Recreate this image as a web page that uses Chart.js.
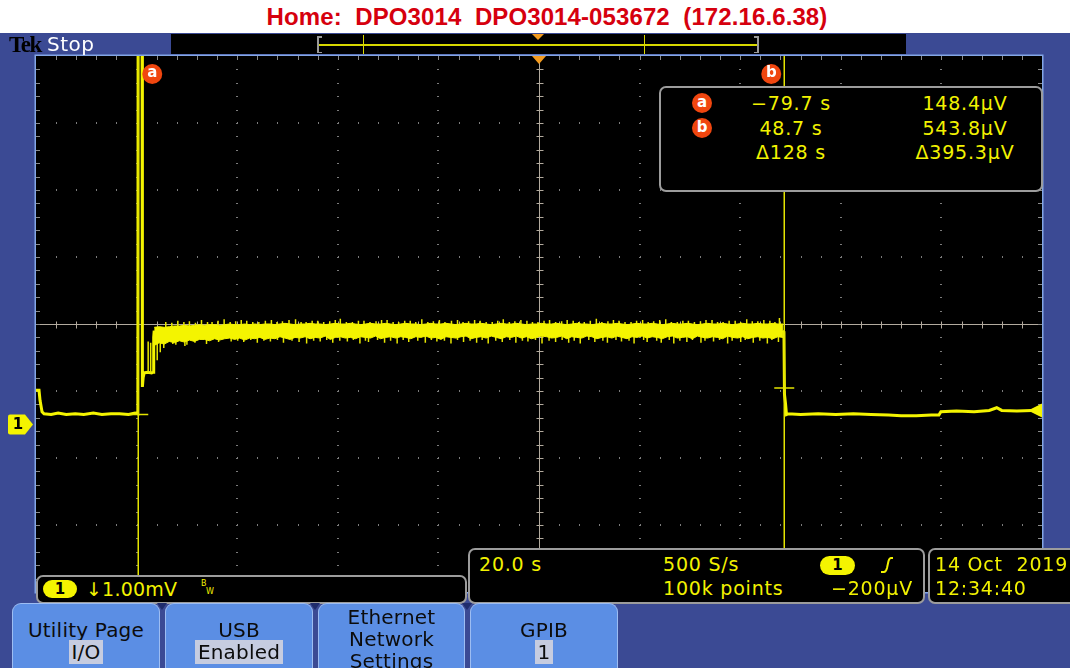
<!DOCTYPE html>
<html>
<head>
<meta charset="utf-8">
<script src="https://cdn.jsdelivr.net/npm/chart.js@4.4.1/dist/chart.umd.min.js"></script>
<style>
  html, body { margin: 0; padding: 0; }
  body { width: 1070px; height: 668px; overflow: hidden; position: relative; background: #3b4a94;
         font-family: "DejaVu Sans", sans-serif; }
  #paper { position: absolute; left: 0; top: 0; width: 1070px; height: 33px; background: #fff; }
  #title { position: absolute; left: 12px; top: 3px; width: 1070px; text-align: center; white-space: pre;
           font: bold 24px "Liberation Sans", Arial, sans-serif; color: #d6000e; letter-spacing: 0.1px; }
  #wrap { position: absolute; left: 0; top: 0; width: 1070px; height: 668px; z-index: 1; }
  .ov { position: absolute; z-index: 2; }
  #tek { left: 9px; top: 32px; font: bold 23px "Liberation Serif", serif; color: #000; letter-spacing: -1.5px; }
  #stop { left: 47px; top: 32px; font-size: 20px; color: #fff; letter-spacing: 0.5px; }
  #rec { left: 171px; top: 34px; width: 735px; height: 20px; background: #000; }
  .box { background: #000; border: 2px solid #9c9c9c; border-radius: 7px; box-sizing: border-box; }
  .y { color: #f2f200; font-size: 19px; letter-spacing: 0.8px; line-height: 22px; white-space: pre; }
  .c { text-align: center; }
  .r { text-align: right; }
  .pill { background: #f4f400; color: #000; border-radius: 10px; text-align: center;
          font: bold 15px "DejaVu Sans", sans-serif; }
  .tag { width: 20px; height: 20px; border-radius: 50%; background: #f0460f; color: #fff;
         font: bold 15px "DejaVu Sans", sans-serif; text-align: center; line-height: 19px; }
  .btn { top: 603px; height: 80px; background: #5b8ee4; border: 1px solid #9dbdf2; border-bottom: none;
         border-radius: 9px 9px 0 0; box-sizing: border-box; color: #0c0c0c; font-size: 20px;
         text-align: center; line-height: 22px; padding-top: 15px; letter-spacing: 0.2px; }
  .hl { background: #c6cce0; padding: 0 3px; }
  .notch { width: 0; height: 0; border-left: 5px solid transparent; border-right: 5px solid transparent;
           border-top: 7px solid #1f2c6c; }
</style>
</head>
<body>
<div id="paper"></div>
<div id="title">Home:  DPO3014  DPO3014-053672  (172.16.6.38)</div>
<div id="wrap"><canvas id="scope"></canvas></div>

<div class="ov" id="tek">Tek</div>
<div class="ov" id="stop">Stop</div>
<div class="ov" id="rec"></div>

<!-- cursor readout -->
<div class="ov box" style="left:659px;top:86px;width:384px;height:106px;"></div>
<div class="ov tag" style="left:692px;top:93px;">a</div>
<div class="ov tag" style="left:692px;top:118px;">b</div>
<div class="ov y c" id="ta" style="left:731px;top:92px;width:120px;"></div>
<div class="ov y c" id="tb" style="left:731px;top:117px;width:120px;"></div>
<div class="ov y c" style="left:731px;top:141px;width:120px;">Δ128 s</div>
<div class="ov y c" id="va" style="left:895px;top:92px;width:140px;"></div>
<div class="ov y c" id="vb" style="left:895px;top:117px;width:140px;"></div>
<div class="ov y c" style="left:895px;top:141px;width:140px;">Δ395.3µV</div>

<!-- channel readout -->
<div class="ov box" style="left:36px;top:575px;width:431px;height:29px;"></div>
<div class="ov pill" style="left:43px;top:580px;width:34px;height:18px;line-height:18px;">1</div>
<div class="ov y" style="left:86px;top:578px;letter-spacing:0.2px;">↓1.00mV</div>
<div class="ov" style="left:201px;top:580px;color:#f2f200;font-size:8px;line-height:8px;">B</div>
<div class="ov" style="left:206px;top:588px;color:#f2f200;font-size:8px;line-height:8px;">W</div>

<!-- timebase / trigger readout -->
<div class="ov box" style="left:468px;top:548px;width:457px;height:56px;"></div>
<div class="ov y" style="left:479px;top:553px;">20.0 s</div>
<div class="ov y" style="left:663px;top:553px;">500 S/s</div>
<div class="ov pill" style="left:820px;top:556px;width:35px;height:19px;line-height:19px;">1</div>
<svg class="ov" style="left:880px;top:556px;" width="14" height="18" viewBox="0 0 14 18">
  <path d="M1 16 H4 Q6 16 7 12 L8.5 5 Q9.5 2 11 2 H13" fill="none" stroke="#f2f200" stroke-width="2"/>
</svg>
<div class="ov y" style="left:663px;top:577px;">100k points</div>
<div class="ov y r" style="left:800px;top:577px;width:113px;">−200µV</div>

<!-- date readout -->
<div class="ov box" style="left:928px;top:548px;width:160px;height:56px;"></div>
<div class="ov y" style="left:935px;top:553px;">14 Oct  2019</div>
<div class="ov y" style="left:935px;top:577px;">12:34:40</div>

<!-- soft keys -->
<div class="ov btn" style="left:12px;width:148px;">Utility Page<br><span class="hl">I/O</span></div>
<div class="ov btn" style="left:165px;width:148px;">USB<br><span class="hl">Enabled</span></div>
<div class="ov btn" style="left:318px;width:147px;padding-top:2px;">Ethernet<br>Network<br>Settings</div>
<div class="ov btn" style="left:470px;width:148px;">GPIB<br><span class="hl">1</span></div>
<div class="ov notch" style="left:157px;top:603px;"></div>
<div class="ov notch" style="left:310px;top:603px;"></div>
<div class="ov notch" style="left:462px;top:603px;"></div>

<script>
// Channel 1 acquisition: 20 s/div horizontal, 1.00 mV/div vertical, 10 x 8 divisions.
const X_RANGE = [-100, 100];          // s
const Y_RANGE = [-2.5, 5.5];          // mV; ground reference 1.5 div below centre
const CURSOR_T = [-79.7, 48.7];       // s   (cursor a, cursor b)
const CURSOR_V = [0.1484, 0.5438];    // mV  (148.4 µV, 543.8 µV)

// Main trace: baseline, the switch-on burst, and the return to baseline.
const TRACE_T = [-100, -99.4, -99.2, -98.8, -98.4, -97.0, -95.6, -94.0, -92.2, -90.5, -88.6, -86.9,
  -85.1, -83.4, -81.6, -80.3, -79.75, -79.7, -78.9, -78.85, -78.7, -78.5, -77.8, -77.0, -76.7, -76.6,
  -76.5, -76.5, 48.5, 48.7, 48.8, 49.0, 49.2, 49.5, 52.0, 55.5, 59.0, 62.5, 66.0, 69.5, 72.0, 75.0,
  78.0, 79.5, 79.9, 83.0, 86.5, 89.5, 91.0, 92.0, 95.0, 98.0, 100];
const TRACE_V = [0.51, 0.51, 0.36, 0.19, 0.16, 0.15, 0.17, 0.15, 0.16, 0.15, 0.17, 0.15,
  0.16, 0.16, 0.15, 0.17, 0.16, 5.6, 5.6, 0.56, 0.70, 0.77, 0.78, 0.77, 0.78, 1.30,
  1.40, null, 1.40, 1.38, 0.45, 0.32, 0.15, 0.16, 0.15, 0.16, 0.15, 0.16, 0.15, 0.14, 0.13, 0.13,
  0.14, 0.14, 0.19, 0.20, 0.19, 0.21, 0.25, 0.21, 0.20, 0.21, 0.21];

// Plateau noise envelope, one sample per second from -76.5 s.
const PLATEAU_START = -76.5;
const PLATEAU_STEP = 1;
const CORE_HI = [
  1.45, 1.46, 1.45, 1.46, 1.47, 1.47, 1.48, 1.47, 1.48, 1.49,
  1.48, 1.49, 1.49, 1.48, 1.49, 1.50, 1.49, 1.49, 1.50, 1.49,
  1.50, 1.49, 1.50, 1.50, 1.49, 1.50, 1.51, 1.50, 1.49, 1.50,
  1.50, 1.51, 1.50, 1.50, 1.49, 1.50, 1.51, 1.50, 1.50, 1.51,
  1.50, 1.49, 1.50, 1.51, 1.50, 1.50, 1.51, 1.50, 1.49, 1.50,
  1.51, 1.50, 1.50, 1.49, 1.50, 1.51, 1.50, 1.50, 1.51, 1.50,
  1.49, 1.50, 1.51, 1.50, 1.50, 1.51, 1.50, 1.49, 1.50, 1.51,
  1.50, 1.50, 1.51, 1.50, 1.49, 1.50, 1.50, 1.51, 1.50, 1.50,
  1.51, 1.50, 1.49, 1.50, 1.51, 1.50, 1.50, 1.49, 1.50, 1.51,
  1.50, 1.50, 1.51, 1.50, 1.49, 1.50, 1.51, 1.50, 1.50, 1.51,
  1.50, 1.49, 1.50, 1.51, 1.50, 1.50, 1.51, 1.50, 1.49, 1.50,
  1.51, 1.50, 1.50, 1.51, 1.50, 1.49, 1.50, 1.51, 1.50, 1.50,
  1.51, 1.50, 1.50, 1.51, 1.50, 1.50];
const CORE_LO = [
  1.18, 1.22, 1.20, 1.24, 1.22, 1.25, 1.23, 1.26, 1.24, 1.27,
  1.27, 1.25, 1.28, 1.26, 1.28, 1.29, 1.27, 1.29, 1.26, 1.29,
  1.28, 1.30, 1.27, 1.29, 1.28, 1.31, 1.29, 1.27, 1.30, 1.29,
  1.31, 1.28, 1.30, 1.29, 1.32, 1.27, 1.30, 1.31, 1.29, 1.30,
  1.28, 1.31, 1.30, 1.29, 1.32, 1.28, 1.30, 1.31, 1.29, 1.31,
  1.30, 1.28, 1.31, 1.30, 1.32, 1.29, 1.30, 1.27, 1.31, 1.30,
  1.29, 1.31, 1.32, 1.28, 1.30, 1.31, 1.29, 1.32, 1.30, 1.28,
  1.31, 1.30, 1.32, 1.29, 1.31, 1.28, 1.30, 1.32, 1.31, 1.29,
  1.30, 1.32, 1.28, 1.31, 1.30, 1.29, 1.32, 1.31, 1.28, 1.30,
  1.31, 1.29, 1.32, 1.30, 1.28, 1.31, 1.30, 1.32, 1.29, 1.31,
  1.30, 1.28, 1.31, 1.32, 1.29, 1.30, 1.31, 1.28, 1.32, 1.30,
  1.29, 1.31, 1.30, 1.28, 1.32, 1.30, 1.29, 1.31, 1.28, 1.30,
  1.31, 1.29, 1.30, 1.28, 1.31, 1.30];

// Individual glitches: [time s, low mV, high mV]
const SPIKES = [
  [-77.7, 0.77, 1.24], [-77.2, 0.77, 1.22],
  // downward
  [-75.9, 0.96, 1.40], [-75.3, 1.08, 1.40], [-74.6, 1.14, 1.40], [-72.8, 1.20, 1.40], [-72.2, 1.19, 1.40],
  [-70.4, 1.17, 1.40], [-70.0, 1.19, 1.40], [-68.4, 1.22, 1.40], [-66.1, 1.20, 1.40], [-63.7, 1.23, 1.40],
  [-61.2, 1.24, 1.40], [-59.9, 1.25, 1.40], [-58.7, 1.23, 1.40], [-57.3, 1.26, 1.40], [-56.0, 1.22, 1.40],
  [-54.7, 1.25, 1.40], [-53.4, 1.24, 1.40], [-52.0, 1.26, 1.40], [-50.8, 1.22, 1.40], [-49.1, 1.25, 1.40],
  [-47.7, 1.23, 1.40], [-46.2, 1.21, 1.40], [-44.8, 1.25, 1.40], [-43.5, 1.24, 1.40], [-42.2, 1.26, 1.40],
  [-41.0, 1.22, 1.40], [-39.6, 1.25, 1.40], [-38.1, 1.24, 1.40], [-36.9, 1.26, 1.40], [-35.6, 1.21, 1.40],
  [-34.5, 1.25, 1.40], [-33.9, 1.23, 1.40], [-32.1, 1.26, 1.40], [-30.7, 1.22, 1.40], [-29.5, 1.25, 1.40],
  [-28.2, 1.21, 1.40], [-27.0, 1.26, 1.40], [-25.9, 1.23, 1.40], [-24.1, 1.25, 1.40], [-22.6, 1.22, 1.40],
  [-21.4, 1.26, 1.40], [-20.3, 1.24, 1.40], [-18.8, 1.25, 1.40], [-17.5, 1.21, 1.40], [-16.2, 1.26, 1.40],
  [-15.0, 1.23, 1.40], [-13.7, 1.25, 1.40], [-12.4, 1.22, 1.40], [-11.3, 1.26, 1.40], [-10.1, 1.21, 1.40],
  [-8.6, 1.25, 1.40], [-7.3, 1.23, 1.40], [-5.8, 1.26, 1.40], [-4.6, 1.22, 1.40], [-3.3, 1.25, 1.40],
  [-2.2, 1.24, 1.40], [-0.7, 1.26, 1.40], [0.6, 1.21, 1.40], [2.0, 1.25, 1.40], [3.3, 1.23, 1.40],
  [4.6, 1.26, 1.40], [5.9, 1.22, 1.40], [7.0, 1.25, 1.40], [8.2, 1.21, 1.40], [9.9, 1.26, 1.40],
  [11.1, 1.23, 1.40], [12.7, 1.25, 1.40], [13.6, 1.22, 1.40], [15.3, 1.26, 1.40], [16.4, 1.24, 1.40],
  [17.9, 1.25, 1.40], [18.9, 1.21, 1.40], [20.8, 1.26, 1.40], [21.5, 1.23, 1.40], [23.4, 1.25, 1.40],
  [24.3, 1.22, 1.40], [25.9, 1.26, 1.40], [26.8, 1.21, 1.40], [28.0, 1.25, 1.40], [29.4, 1.23, 1.40],
  [30.5, 1.26, 1.40], [32.2, 1.22, 1.40], [33.0, 1.25, 1.40], [34.7, 1.24, 1.40], [35.9, 1.26, 1.40],
  [37.5, 1.21, 1.40], [38.4, 1.25, 1.40], [40.1, 1.23, 1.40], [41.0, 1.26, 1.40], [42.6, 1.22, 1.40],
  [43.9, 1.25, 1.40], [45.4, 1.21, 1.40], [46.3, 1.26, 1.40], [47.6, 1.23, 1.40],
  // upward
  [-74.2, 1.44, 1.53], [-73.0, 1.44, 1.52], [-71.8, 1.44, 1.55], [-70.6, 1.45, 1.53], [-69.5, 1.45, 1.54],
  [-68.3, 1.45, 1.52], [-67.1, 1.45, 1.56], [-65.9, 1.46, 1.53], [-65.0, 1.46, 1.53], [-63.8, 1.46, 1.55],
  [-62.6, 1.46, 1.57], [-61.4, 1.46, 1.53], [-60.3, 1.46, 1.54], [-59.2, 1.46, 1.56], [-58.1, 1.46, 1.55],
  [-56.9, 1.46, 1.53], [-55.7, 1.46, 1.53], [-54.4, 1.46, 1.55], [-53.2, 1.46, 1.56], [-52.1, 1.46, 1.53],
  [-51.0, 1.46, 1.54], [-49.7, 1.46, 1.56], [-48.4, 1.46, 1.57], [-47.3, 1.46, 1.53], [-46.3, 1.46, 1.53],
  [-45.1, 1.46, 1.55], [-44.0, 1.46, 1.55], [-42.8, 1.46, 1.53], [-41.6, 1.46, 1.54], [-40.5, 1.46, 1.56],
  [-39.5, 1.46, 1.58], [-38.3, 1.46, 1.53], [-37.1, 1.46, 1.53], [-35.9, 1.46, 1.55], [-34.8, 1.46, 1.55],
  [-33.6, 1.46, 1.53], [-32.4, 1.46, 1.54], [-31.3, 1.46, 1.56], [-30.2, 1.46, 1.56], [-29.0, 1.46, 1.53],
  [-27.9, 1.46, 1.53], [-26.7, 1.46, 1.55], [-25.6, 1.46, 1.55], [-24.5, 1.46, 1.53], [-23.3, 1.46, 1.57],
  [-22.1, 1.46, 1.53], [-21.0, 1.46, 1.54], [-19.8, 1.46, 1.56], [-18.7, 1.46, 1.53], [-17.4, 1.46, 1.55],
  [-16.2, 1.46, 1.56], [-15.1, 1.46, 1.53], [-14.0, 1.46, 1.54], [-12.8, 1.46, 1.56], [-11.7, 1.46, 1.55],
  [-10.5, 1.46, 1.53], [-9.3, 1.46, 1.53], [-8.2, 1.46, 1.55], [-7.1, 1.46, 1.57], [-5.9, 1.46, 1.53],
  [-4.8, 1.46, 1.54], [-3.6, 1.46, 1.56], [-2.4, 1.46, 1.55], [-1.3, 1.46, 1.53], [-0.2, 1.46, 1.53],
  [1.0, 1.46, 1.55], [2.1, 1.46, 1.56], [3.3, 1.46, 1.53], [4.5, 1.46, 1.54], [5.6, 1.46, 1.56],
  [6.8, 1.46, 1.55], [7.9, 1.46, 1.53], [9.0, 1.46, 1.53], [10.2, 1.46, 1.55], [11.4, 1.46, 1.58],
  [12.5, 1.46, 1.53], [13.7, 1.46, 1.54], [14.8, 1.46, 1.56], [15.9, 1.46, 1.55], [17.1, 1.46, 1.53],
  [18.3, 1.46, 1.53], [19.4, 1.46, 1.55], [20.6, 1.46, 1.56], [21.7, 1.46, 1.53], [22.8, 1.46, 1.54],
  [24.0, 1.46, 1.56], [25.2, 1.46, 1.57], [26.3, 1.46, 1.53], [27.5, 1.46, 1.53], [28.6, 1.46, 1.55],
  [29.7, 1.46, 1.55], [30.9, 1.46, 1.53], [32.1, 1.46, 1.54], [33.2, 1.46, 1.56], [34.4, 1.46, 1.56],
  [35.5, 1.46, 1.53], [36.6, 1.46, 1.53], [37.8, 1.46, 1.55], [39.0, 1.46, 1.55], [40.1, 1.46, 1.53],
  [41.3, 1.46, 1.57], [42.4, 1.46, 1.54], [43.5, 1.46, 1.54], [44.7, 1.46, 1.56], [45.9, 1.46, 1.55],
  [46.9, 1.46, 1.53], [47.8, 1.46, 1.59]
];

const YELLOW = '#f4f400';

// ----- readout text from the cursor values -----
const fmtT = t => (t < 0 ? '−' : '') + Math.abs(t).toFixed(1) + ' s';
const fmtV = v => (v * 1000).toFixed(1) + 'µV';
document.getElementById('ta').textContent = fmtT(CURSOR_T[0]);
document.getElementById('tb').textContent = fmtT(CURSOR_T[1]);
document.getElementById('va').textContent = fmtV(CURSOR_V[0]);
document.getElementById('vb').textContent = fmtV(CURSOR_V[1]);

// ----- record view strip: bracket shows the displayed window in the record -----
(function () {
  const rec = document.getElementById('rec');
  const L = 148, W = 438; // bracket offset and width inside the strip
  const at = t => L + (t - X_RANGE[0]) / (X_RANGE[1] - X_RANGE[0]) * W;
  const add = (css) => { const d = document.createElement('div'); d.style.cssText = 'position:absolute;' + css; rec.appendChild(d); };
  add(`left:${L}px;top:10px;width:${W}px;height:1.5px;background:#d8d800;`);
  add(`left:${L - 2}px;top:2px;width:2px;height:17px;background:#9a9a9a;`);
  add(`left:${L - 2}px;top:2px;width:5px;height:1.5px;background:#9a9a9a;`);
  add(`left:${L - 2}px;top:17.5px;width:5px;height:1.5px;background:#9a9a9a;`);
  add(`left:${L + W}px;top:2px;width:2px;height:17px;background:#9a9a9a;`);
  add(`left:${L + W - 3}px;top:2px;width:5px;height:1.5px;background:#9a9a9a;`);
  add(`left:${L + W - 3}px;top:17.5px;width:5px;height:1.5px;background:#9a9a9a;`);
  CURSOR_T.forEach(t => add(`left:${at(t) - 0.75}px;top:1px;width:1.5px;height:19px;background:#d8d800;`));
  const tx = at(0);
  add(`left:${tx - 6}px;top:0;width:0;height:0;border-left:6px solid transparent;border-right:6px solid transparent;border-top:6px solid #f39b1f;`);
})();

// ----- oscilloscope graticule, cursors and markers -----
const scopePlugin = {
  id: 'scopeScreen',
  beforeDraw(chart) {
    const { ctx, chartArea: a } = chart;
    const dx = a.width / 10, dy = a.height / 8;
    ctx.save();
    ctx.fillStyle = '#000';
    ctx.fillRect(a.left, a.top, a.width, a.height);
    ctx.fillStyle = '#7c7c7c';
    for (let i = 1; i < 10; i++) {
      if (i === 5) continue;
      const px = Math.round(a.left + i * dx);
      for (let k = 1; k < 40; k++) ctx.fillRect(px - 1, Math.round(a.top + k * dy / 5), 2, 1);
    }
    for (let j = 1; j < 8; j++) {
      if (j === 4) continue;
      const py = Math.round(a.top + j * dy);
      for (let k = 1; k < 50; k++) ctx.fillRect(Math.round(a.left + k * dx / 5), py - 1, 1, 2);
    }
    const cx = Math.round(a.left + 5 * dx) + 0.5, cy = Math.round(a.top + 4 * dy) + 0.5;
    ctx.strokeStyle = '#b2aa9e';
    ctx.lineWidth = 1;
    ctx.beginPath();
    ctx.moveTo(a.left, cy); ctx.lineTo(a.right, cy);
    ctx.moveTo(cx, a.top); ctx.lineTo(cx, a.bottom);
    for (let k = 1; k < 50; k++) { const px = Math.round(a.left + k * dx / 5) + 0.5; ctx.moveTo(px, cy - 3); ctx.lineTo(px, cy + 4); }
    for (let k = 1; k < 40; k++) { const py = Math.round(a.top + k * dy / 5) + 0.5; ctx.moveTo(cx - 3, py); ctx.lineTo(cx + 4, py); }
    ctx.stroke();
    ctx.strokeStyle = '#8a8a8a';
    ctx.beginPath();
    for (let k = 1; k < 50; k++) {
      const px = Math.round(a.left + k * dx / 5) + 0.5;
      ctx.moveTo(px, a.top); ctx.lineTo(px, a.top + 4);
    }
    for (let k = 1; k < 40; k++) {
      const py = Math.round(a.top + k * dy / 5) + 0.5;
      ctx.moveTo(a.left, py); ctx.lineTo(a.left + 4, py);
      ctx.moveTo(a.right, py); ctx.lineTo(a.right - 4, py);
    }
    ctx.stroke();
    ctx.strokeStyle = '#84a6e6';
    ctx.lineWidth = 1.5;
    ctx.strokeRect(a.left - 0.75, a.top - 0.75, a.width + 1.5, a.height + 1.5);
    ctx.restore();
  },
  afterDatasetsDraw(chart) {
    const { ctx, chartArea: a, scales: { x, y } } = chart;
    ctx.save();
    // time cursors with their waveform crossings
    ctx.strokeStyle = '#e4e400';
    ctx.lineWidth = 1.5;
    CURSOR_T.forEach((t, i) => {
      const px = Math.round(x.getPixelForValue(t)) + 0.25;
      const py = y.getPixelForValue(CURSOR_V[i]);
      ctx.beginPath();
      ctx.moveTo(px, a.top); ctx.lineTo(px, a.bottom);
      ctx.moveTo(px - 10, py); ctx.lineTo(px + 10, py);
      ctx.stroke();
      const lx = px + (i === 0 ? 14 : -13);
      ctx.fillStyle = '#f0460f';
      ctx.beginPath(); ctx.arc(lx, a.top + 18, 10, 0, Math.PI * 2); ctx.fill();
      ctx.fillStyle = '#fff';
      ctx.font = 'bold 15px "DejaVu Sans"';
      ctx.textAlign = 'center'; ctx.textBaseline = 'middle';
      ctx.fillText(i === 0 ? 'a' : 'b', lx, a.top + 17);
    });
    // trigger position marker
    const tx = x.getPixelForValue(0);
    ctx.fillStyle = '#f39b1f';
    ctx.beginPath(); ctx.moveTo(tx - 7, a.top); ctx.lineTo(tx + 7, a.top); ctx.lineTo(tx, a.top + 8); ctx.closePath(); ctx.fill();
    // channel 1 ground reference
    const gy = y.getPixelForValue(0);
    ctx.fillStyle = YELLOW;
    ctx.beginPath();
    ctx.moveTo(10, gy - 10); ctx.lineTo(25, gy - 10); ctx.lineTo(33, gy); ctx.lineTo(25, gy + 10);
    ctx.lineTo(10, gy + 10); ctx.quadraticCurveTo(8, gy + 10, 8, gy + 8); ctx.lineTo(8, gy - 8);
    ctx.quadraticCurveTo(8, gy - 10, 10, gy - 10); ctx.closePath(); ctx.fill();
    ctx.fillStyle = '#000';
    ctx.font = 'bold 15px "DejaVu Sans"';
    ctx.textAlign = 'center'; ctx.textBaseline = 'middle';
    ctx.fillText('1', 18, gy + 1);
    // end-of-record arrow on the trace level
    const ey = y.getPixelForValue(TRACE_V[TRACE_V.length - 1]);
    ctx.fillStyle = YELLOW;
    ctx.beginPath(); ctx.moveTo(a.right - 14, ey); ctx.lineTo(a.right, ey - 7); ctx.lineTo(a.right, ey + 7); ctx.closePath(); ctx.fill();
    ctx.restore();
  }
};

const plateauT = CORE_HI.map((_, i) => PLATEAU_START + i * PLATEAU_STEP);
const spikePts = [];
SPIKES.forEach(([t, lo, hi]) => { spikePts.push({ x: t, y: lo }, { x: t, y: hi }, { x: t, y: null }); });

new Chart(document.getElementById('scope'), {
  type: 'line',
  data: {
    datasets: [
      { label: 'envelope max', data: plateauT.map((t, i) => ({ x: t, y: CORE_HI[i] })),
        borderColor: YELLOW, borderWidth: 1, pointRadius: 0, fill: false },
      { label: 'envelope min', data: plateauT.map((t, i) => ({ x: t, y: CORE_LO[i] })),
        borderColor: YELLOW, borderWidth: 1, pointRadius: 0, fill: '-1', backgroundColor: YELLOW },
      { label: 'glitches', data: spikePts, borderColor: '#e8e800', borderWidth: 1.5,
        pointRadius: 0, spanGaps: false, fill: false },
      { label: 'CH1', data: TRACE_T.map((t, i) => ({ x: t, y: TRACE_V[i] })),
        borderColor: YELLOW, borderWidth: 3, pointRadius: 0, spanGaps: false, fill: false, tension: 0 }
    ]
  },
  options: {
    responsive: true,
    maintainAspectRatio: false,
    animation: false,
    events: [],
    layout: { padding: { left: 36, top: 56, right: 28, bottom: 76 } },
    scales: {
      x: { type: 'linear', min: X_RANGE[0], max: X_RANGE[1], display: false },
      y: { type: 'linear', min: Y_RANGE[0], max: Y_RANGE[1], display: false }
    },
    plugins: { legend: { display: false }, tooltip: { enabled: false } }
  },
  plugins: [scopePlugin]
});
</script>
</body>
</html>
